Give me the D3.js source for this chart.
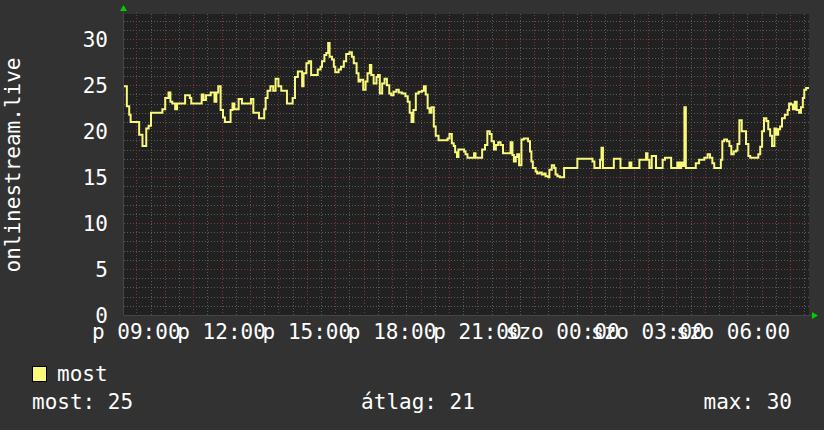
<!DOCTYPE html>
<html lang="hu">
  <head>
    <meta charset="utf-8">
    <title>onlinestream.live</title>
    <style>
      body { margin: 0; background: #323232; }
      text { font-family: "DejaVu Sans Mono", monospace; fill: #ffffff; }
    </style>
  </head>
  <body>
    <div class="chart"></div>
    <script src="https://cdn.jsdelivr.net/npm/d3@7"></script>
    <script type="text/javascript">
      // minutes after the graph start (p 08:34) and listener count
      var minutes = [0, 6, 11, 14, 32, 39, 47, 52, 57, 81, 87, 94, 98, 102, 108, 112, 129, 139, 142, 164,
        168, 173, 183, 191, 195, 199, 204, 209, 213, 225, 229, 233, 242, 249, 268, 273, 285, 296, 299, 303,
        309, 315, 320, 326, 332, 344, 356, 361, 367, 376, 379, 385, 390, 395, 409, 415, 418, 423, 427, 431,
        434, 439, 443, 446, 453, 458, 464, 469, 476, 481, 485, 491, 495, 499, 505, 510, 514, 519, 522, 527,
        533, 536, 540, 545, 550, 555, 560, 564, 569, 575, 580, 587, 594, 599, 603, 607, 611, 616, 622, 629,
        633, 637, 641, 645, 649, 654, 658, 664, 683, 687, 692, 696, 699, 703, 706, 718, 721, 725, 739, 742,
        756, 762, 767, 772, 776, 781, 785, 790, 795, 800, 816, 820, 823, 827, 830, 834, 839, 844, 853, 857,
        860, 863, 869, 872, 877, 882, 887, 890, 896, 898, 903, 908, 911, 915, 920, 929, 957, 989, 993, 1005,
        1008, 1011, 1034, 1048, 1067, 1071, 1088, 1102, 1105, 1109, 1114, 1123, 1137, 1142, 1155, 1168, 1172, 1176, 1179, 1183,
        1186, 1207, 1214, 1225, 1232, 1237, 1242, 1246, 1260, 1263, 1267, 1273, 1278, 1282, 1287, 1292, 1295, 1299, 1304, 1313,
        1318, 1322, 1339, 1343, 1347, 1351, 1356, 1360, 1364, 1368, 1373, 1377, 1381, 1385, 1389, 1395, 1401, 1404, 1408, 1412,
        1416, 1420, 1425, 1429, 1433, 1436, 1440, 1443];
      var values = [24.9, 22.7, 21.8, 21, 19.6, 18.4, 20.3, 20.6, 22, 22.4, 23.6, 24.2, 23.2, 23, 22.4, 23, 23.9, 23.6, 23, 24,
        23.4, 23.9, 24.2, 23.2, 24.2, 24.9, 22.3, 21.5, 21, 22.3, 23, 22.4, 23.5, 23, 23.5, 22, 21.4, 22.4, 23.6, 24.4,
        24.9, 24.4, 25.7, 24.9, 24.4, 23, 23.6, 25.9, 26.5, 24.9, 26.3, 27.4, 27.6, 26.1, 26.7, 27, 27.6, 28.3, 28.5, 29.6,
        28.1, 27.8, 27, 26.4, 26.7, 27, 27.6, 28.4, 28.6, 28.1, 27.4, 26.3, 25.4, 25.6, 24.5, 25.4, 26.3, 27.2, 26.1, 25.2,
        25.9, 26.1, 24.1, 25.2, 25.7, 25, 24.1, 23.9, 24.3, 24.5, 24.2, 24.1, 23.8, 23.2, 22, 21, 22.3, 24.1, 24.3, 24.4,
        24.9, 24, 22.5, 22, 22.6, 20.5, 19.5, 19, 19.2, 19.7, 18.7, 18.4, 17.7, 17.2, 18, 17.8, 17.5, 17.1, 17.6, 17.1,
        18, 18.5, 20, 19.7, 18.9, 18, 18.5, 18.8, 18.5, 17.6, 18.8, 17.4, 16.7, 17.2, 17.5, 16.3, 19.1, 19.2, 18.9, 17.8,
        16.7, 16, 15.6, 15.4, 15.5, 15.3, 15.4, 15.1, 15, 15.8, 16.3, 16, 15.3, 15.1, 15, 16, 17, 16.7, 16, 16.9,
        18.2, 16, 17, 16, 16.6, 16, 16.9, 17.6, 16.9, 16, 17.3, 16, 16.9, 17.1, 16, 16.6, 16, 16.6, 16.2, 22.6,
        16, 16.5, 16.9, 17.1, 17.5, 17.1, 16.5, 16, 16.9, 18.9, 19.1, 18.9, 18.4, 17.5, 17.8, 17.9, 18.6, 21.2, 20, 18.6,
        17.3, 17.1, 17.5, 18.3, 20, 21.4, 21.1, 20.2, 19.5, 18.4, 20.3, 19.6, 20.2, 20.5, 21.4, 21.8, 22.3, 23, 22.9, 22.4,
        23.2, 22.3, 22, 22.6, 23.6, 24.5, 24.7, 24.7];
      var yTicks = [0, 5, 10, 15, 20, 25, 30];
      var dayNames = ["v", "h", "k", "sze", "cs", "p", "szo"];
      var seriesName = "most";
      var statLabels = ["most: 25", "átlag: 21", "max: 30"];
      var axisTitle = "onlinestream.live";

      var W = 824, H = 430;
      var plot = {left: 124, top: 14, right: 809, bottom: 315};

      var start = new Date(2021, 0, 8, 8, 34);
      var end = new Date(start.getTime() + 1446 * 60000);
      var data = minutes.map(function(m, i) {
        return {t: new Date(start.getTime() + m * 60000), v: values[i]};
      });
      data.push({t: end, v: values[values.length - 1]});

      var x = d3.scaleTime().domain([start, end]).range([plot.left, plot.right]);
      var y = d3.scaleLinear().domain([0, 32.75]).range([plot.bottom, plot.top]);

      var svg = d3.select(".chart").append("svg")
          .attr("width", W)
          .attr("height", H);

      svg.append("rect").attr("width", W).attr("height", H).attr("fill", "#323232");
      svg.append("rect")
          .attr("x", plot.left).attr("y", plot.top)
          .attr("width", plot.right - plot.left).attr("height", plot.bottom - plot.top)
          .attr("fill", "#212121");

      var grid = svg.append("g").attr("class", "grid");

      // minor grid: every unit and every 30 minutes
      grid.selectAll(".hmin").data(d3.range(1, 33).filter(function(v) { return v % 5; }))
        .enter().append("line")
          .attr("x1", plot.left).attr("x2", plot.right)
          .attr("y1", function(d) { return Math.round(y(d)) + 0.5; })
          .attr("y2", function(d) { return Math.round(y(d)) + 0.5; })
          .attr("stroke", "#5a5a5a").attr("stroke-dasharray", "1,2");
      grid.selectAll(".vmin").data(d3.timeMinute.every(30).range(start, end).filter(function(d) { return d.getMinutes() === 30; }))
        .enter().append("line")
          .attr("x1", function(d) { return Math.round(x(d)) + 0.5; })
          .attr("x2", function(d) { return Math.round(x(d)) + 0.5; })
          .attr("y1", plot.top).attr("y2", plot.bottom)
          .attr("stroke", "#5a5a5a").attr("stroke-dasharray", "1,2");

      // major grid: every 5 units and every hour
      grid.selectAll(".hmaj").data(yTicks.slice(1))
        .enter().append("line")
          .attr("x1", plot.left).attr("x2", plot.right)
          .attr("y1", function(d) { return Math.round(y(d)) + 0.5; })
          .attr("y2", function(d) { return Math.round(y(d)) + 0.5; })
          .attr("stroke", "#803838").attr("stroke-dasharray", "1,2");
      grid.selectAll(".vmaj").data(d3.timeHour.range(start, end))
        .enter().append("line")
          .attr("x1", function(d) { return Math.round(x(d)) + 0.5; })
          .attr("x2", function(d) { return Math.round(x(d)) + 0.5; })
          .attr("y1", plot.top - 2).attr("y2", plot.bottom + 2)
          .attr("stroke", "#803838").attr("stroke-dasharray", "1,2");

      // data line
      var line = d3.line()
          .x(function(d) { return x(d.t); })
          .y(function(d) { return y(d.v); })
          .curve(d3.curveStepAfter);

      svg.append("path")
          .datum(data)
          .attr("fill", "none")
          .attr("stroke", "#f8f87a")
          .attr("stroke-width", 2)
          .attr("d", line);

      // axes
      svg.append("line")
          .attr("x1", plot.left - 0.5).attr("x2", plot.left - 0.5)
          .attr("y1", plot.top - 4).attr("y2", plot.bottom)
          .attr("stroke", "#444");
      svg.append("line")
          .attr("x1", plot.left).attr("x2", plot.right + 4)
          .attr("y1", plot.bottom + 0.5).attr("y2", plot.bottom + 0.5)
          .attr("stroke", "#444");
      svg.append("path")
          .attr("d", "M" + (plot.left - 4) + "," + (plot.top - 3) + "L" + (plot.left + 3) + "," + (plot.top - 3) + "L" + (plot.left - 0.5) + "," + (plot.top - 9) + "Z")
          .attr("fill", "#00cc00");
      svg.append("path")
          .attr("d", "M" + (plot.right + 3) + "," + (plot.bottom - 3) + "L" + (plot.right + 3) + "," + (plot.bottom + 4) + "L" + (plot.right + 9) + "," + (plot.bottom + 0.5) + "Z")
          .attr("fill", "#00cc00");

      // y tick labels
      svg.selectAll(".ylab").data(yTicks)
        .enter().append("text")
          .attr("x", 108)
          .attr("y", function(d) { return y(d); })
          .attr("dy", "0.36em")
          .attr("text-anchor", "end")
          .style("font-size", "21px")
          .text(function(d) { return d; });

      // x tick labels every 3 hours
      var fmt = d3.timeFormat("%H:%M");
      svg.selectAll(".xlab").data(d3.timeHour.every(3).range(start, end))
        .enter().append("text")
          .attr("x", function(d) { return x(d); })
          .attr("y", 339)
          .attr("text-anchor", "middle")
          .style("font-size", "21px")
          .text(function(d) { return dayNames[d.getDay()] + " " + fmt(d); });

      svg.append("text")
          .attr("transform", "translate(20,165) rotate(-90)")
          .attr("text-anchor", "middle")
          .style("font-size", "21px")
          .text(axisTitle);

      // legend
      svg.append("rect")
          .attr("x", 32.5).attr("y", 366.5).attr("width", 14).attr("height", 15)
          .attr("fill", "#f8f87a").attr("stroke", "#000");
      svg.append("text")
          .attr("x", 57).attr("y", 381)
          .style("font-size", "21px")
          .text(seriesName);

      svg.append("text").attr("x", 32).attr("y", 409).style("font-size", "21px").text(statLabels[0]);
      svg.append("text").attr("x", 418).attr("y", 409).attr("text-anchor", "middle").style("font-size", "21px").text(statLabels[1]);
      svg.append("text").attr("x", 792).attr("y", 409).attr("text-anchor", "end").style("font-size", "21px").text(statLabels[2]);
    </script>
  </body>
</html>
